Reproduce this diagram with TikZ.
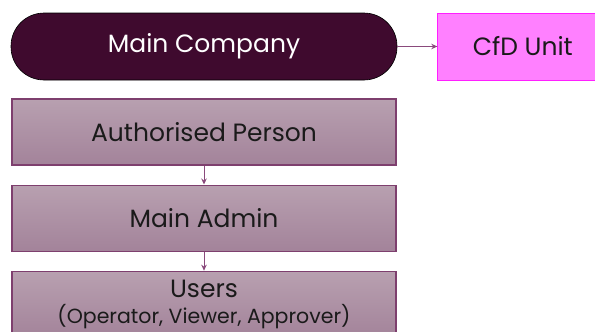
\documentclass[tikz,border=0pt]{standalone}
\usepackage{fontspec}
\setmainfont{Poppins}
\usetikzlibrary{positioning,arrows.meta}

\definecolor{plum}{HTML}{3F0A2E}
\definecolor{pinkfill}{HTML}{FF80FF}
\definecolor{pinkline}{HTML}{FF1FFF}
\definecolor{mauvetop}{HTML}{B8A0B0}
\definecolor{mauvebot}{HTML}{A3839A}
\definecolor{mauveline}{HTML}{7E3F6E}
\definecolor{linkcol}{HTML}{8A4A7C}
\definecolor{ink}{HTML}{1A1A1A}

\begin{document}
\begin{tikzpicture}[x=1pt,y=1pt,>={Stealth[length=6pt,width=5.5pt]},
                    every node/.style={font=\fontsize{25}{29}\selectfont},
                    link/.style={->,draw=linkcol,line width=1pt}]

  \tikzset{
    pill/.style={rectangle,rounded corners=33pt,draw=black,line width=0.6pt,
                 fill=plum,text=white,minimum width=386pt,minimum height=67pt},
    unitbox/.style={rectangle,draw=pinkline,line width=1pt,fill=pinkfill,
                    text=ink,minimum width=170pt,minimum height=67pt},
    rolebox/.style={rectangle,draw=mauveline,line width=1.2pt,text=ink,
                    top color=mauvetop,bottom color=mauvebot,
                    minimum width=384pt,minimum height=66pt,align=center}
  }

  \useasboundingbox (0,0) rectangle (595,-332);
  \clip (0,0) rectangle (595,-332);

	\node[pill] (main) at (204,-46.5)      {Main Company};
	\node[unitbox] (cfd) [right=40pt of main]  {CfD Unit};
	\node[rolebox] (auth) [below=18pt of main] {Authorised Person};
	\node[rolebox] (admin) [below=19pt of auth] {Main Admin};
	\node[rolebox] (users) [below=19pt of admin]
	      {Users\\[-3pt]{\fontsize{20.5}{24}\selectfont (Operator, Viewer, Approver)}};

	\path[link] (main) -- (cfd);
	\path[link] (auth) -- (admin);
	\path[link] (admin) -- (users);

\end{tikzpicture}
\end{document}
